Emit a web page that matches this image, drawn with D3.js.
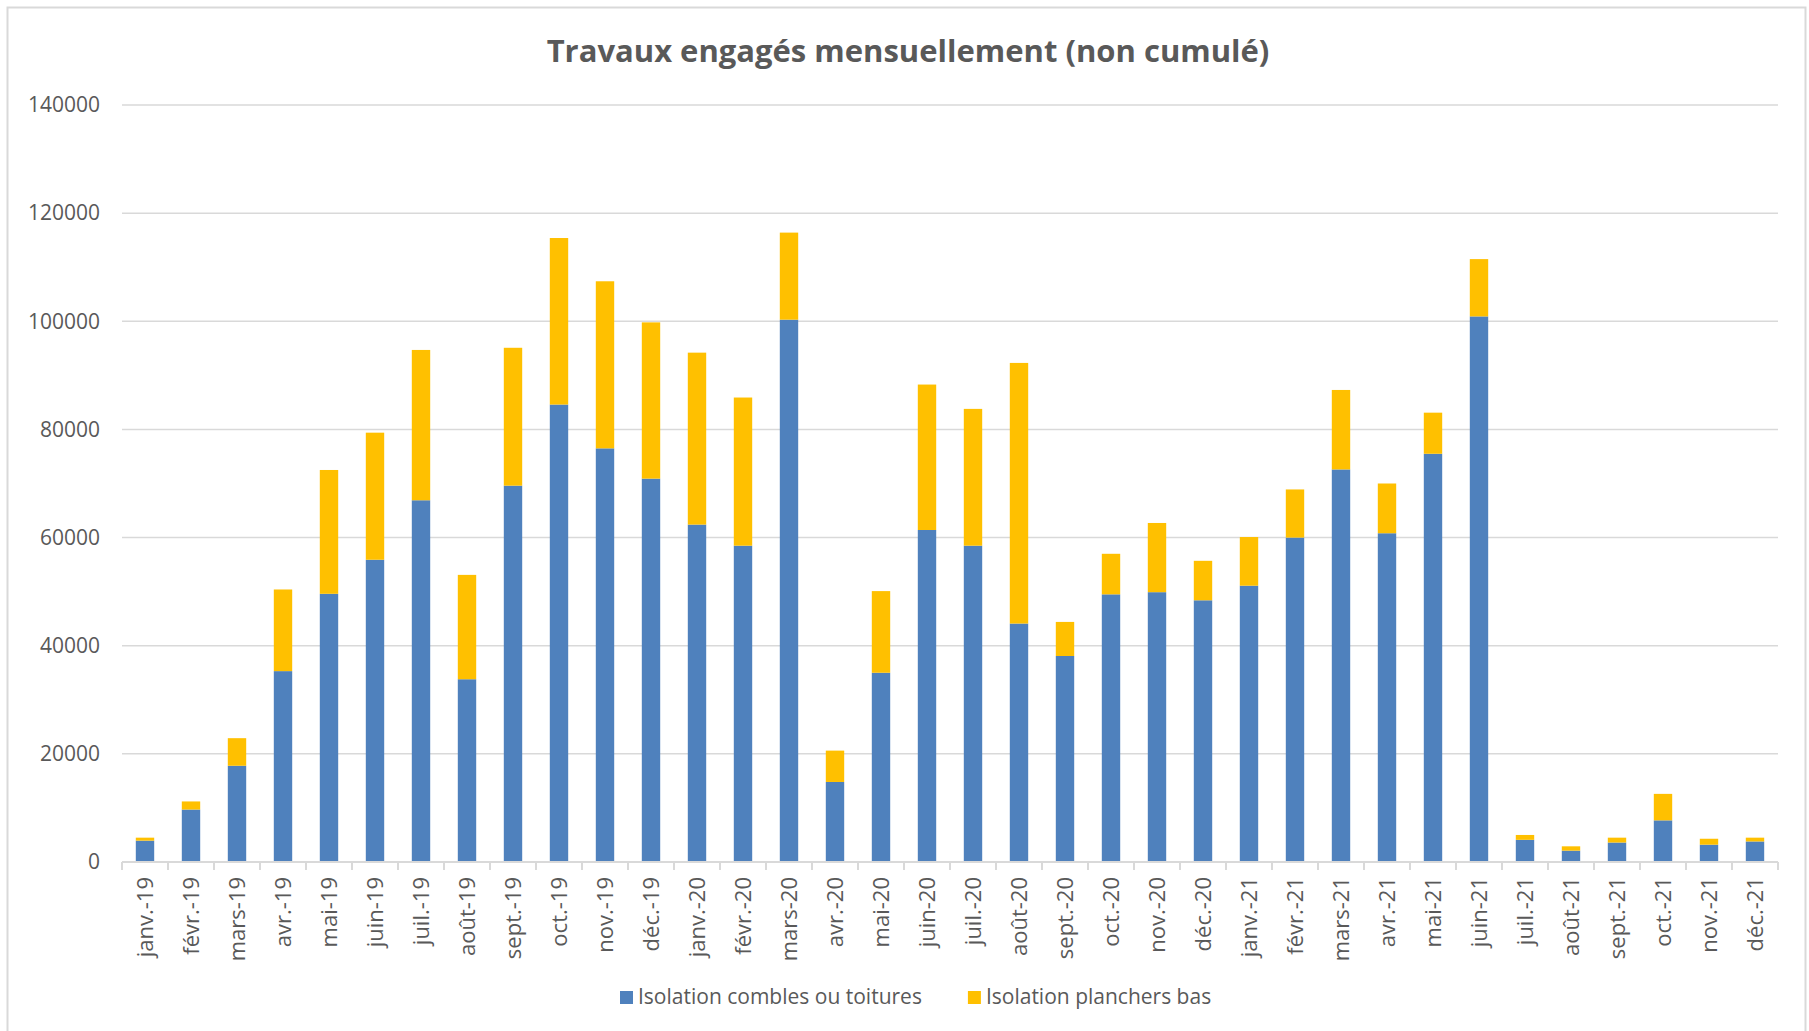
<!DOCTYPE html>
<html>
<head>
<meta charset="utf-8">
<script src="https://cdn.jsdelivr.net/npm/d3@7"></script>
<style>
  body { margin: 0; background: #fff; }
  text { font-family: "Open Sans", sans-serif; fill: #595959; }
</style>
</head>
<body>
<div id="chart"></div>
<script>
// monthly values
var months = ["janv.-19","févr.-19","mars-19","avr.-19","mai-19","juin-19","juil.-19","août-19","sept.-19","oct.-19","nov.-19","déc.-19",
              "janv.-20","févr.-20","mars-20","avr.-20","mai-20","juin-20","juil.-20","août-20","sept.-20","oct.-20","nov.-20","déc.-20",
              "janv.-21","févr.-21","mars-21","avr.-21","mai-21","juin-21","juil.-21","août-21","sept.-21","oct.-21","nov.-21","déc.-21"];
var combles = [3950, 9700, 17800, 35300, 49600, 55900, 66900, 33800, 69600, 84600, 76500, 70900,
               62400, 58500, 100300, 14800, 35000, 61400, 58500, 44100, 38100, 49500, 49900, 48400,
               51100, 60000, 72600, 60800, 75500, 100900, 4100, 2100, 3600, 7700, 3200, 3800];
var planchers = [550, 1500, 5100, 15100, 22900, 23500, 27800, 19300, 25500, 30800, 30900, 28900,
                 31800, 27400, 16100, 5800, 15100, 26900, 25300, 48200, 6300, 7500, 12800, 7300,
                 9000, 8900, 14700, 9200, 7600, 10600, 900, 800, 900, 4900, 1100, 700];
var seriesKeys = ["combles", "planchers"];
var seriesNames = ["Isolation combles ou toitures", "Isolation planchers bas"];
var seriesColors = ["#4F81BD", "#FFC000"];
var yTicks = [0, 20000, 40000, 60000, 80000, 100000, 120000, 140000];
var title = "Travaux engagés mensuellement (non cumulé)";

var W = 1809, H = 1031;
var margin = {top: 105, right: 31, bottom: 169, left: 122},
    width = W - margin.left - margin.right,
    height = H - margin.top - margin.bottom;

var svg = d3.select("#chart").append("svg")
    .attr("width", W)
    .attr("height", H);

// outer chart border
svg.append("rect")
    .attr("x", 7.5).attr("y", 7.5)
    .attr("width", 1798).attr("height", 1040)
    .attr("fill", "#fff")
    .attr("stroke", "#D9D9D9")
    .attr("stroke-width", 2);

svg.append("text")
    .attr("x", 908)
    .attr("y", 51)
    .attr("dy", "0.35em")
    .attr("text-anchor", "middle")
    .style("font-size", "31px")
    .style("font-weight", "bold")
    .text(title);

var g = svg.append("g")
    .attr("transform", "translate(" + margin.left + "," + margin.top + ")");

// scales
var x = d3.scaleBand()
    .domain(months)
    .range([0, width])
    .paddingInner(0.6)
    .paddingOuter(0.3);
var slot = d3.scaleBand()
    .domain(months)
    .range([0, width]);
var y = d3.scaleLinear()
    .domain([0, 140000])
    .range([height, 0]);

// gridlines + y labels
g.append("g")
  .selectAll("line")
  .data(yTicks.filter(function(d) { return d > 0; }))
  .enter().append("line")
    .attr("x1", 0).attr("x2", width)
    .attr("y1", function(d) { return y(d); })
    .attr("y2", function(d) { return y(d); })
    .attr("stroke", "#D9D9D9")
    .attr("stroke-width", 1.5);

g.append("g")
  .selectAll("text")
  .data(yTicks)
  .enter().append("text")
    .attr("x", -22)
    .attr("y", function(d) { return y(d); })
    .attr("dy", "0.35em")
    .attr("text-anchor", "end")
    .style("font-size", "21px")
    .text(function(d) { return d; });

// stacked bars
var table = months.map(function(m, i) {
  return {month: m, combles: combles[i], planchers: planchers[i]};
});
var stacked = d3.stack().keys(seriesKeys)(table);

g.selectAll(".serie")
    .data(stacked)
  .enter().append("g")
    .attr("class", "serie")
    .attr("fill", function(d, i) { return seriesColors[i]; })
  .selectAll("rect")
    .data(function(d) { return d; })
  .enter().append("rect")
    .attr("x", function(d) { return x(d.data.month); })
    .attr("width", x.bandwidth())
    .attr("y", function(d) { return y(d[1]); })
    .attr("height", function(d) { return y(d[0]) - y(d[1]); });

// x axis line and tick marks between categories
var xAxis = g.append("g").attr("transform", "translate(0," + height + ")");
xAxis.append("line")
    .attr("x1", 0).attr("x2", width)
    .attr("stroke", "#D9D9D9")
    .attr("stroke-width", 2);
xAxis.selectAll(".tick")
    .data(months.concat(["end"]))
  .enter().append("line")
    .attr("class", "tick")
    .attr("x1", function(d) { return d === "end" ? width : slot(d); })
    .attr("x2", function(d) { return d === "end" ? width : slot(d); })
    .attr("y1", 0).attr("y2", 8)
    .attr("stroke", "#D9D9D9")
    .attr("stroke-width", 2);

xAxis.selectAll(".lbl")
    .data(months)
  .enter().append("text")
    .attr("class", "lbl")
    .attr("transform", function(d) {
      return "translate(" + (x(d) + x.bandwidth() / 2) + ",15)rotate(-90)";
    })
    .attr("dy", "0.35em")
    .attr("text-anchor", "end")
    .style("font-size", "22px")
    .text(function(d) { return d; });

// legend
var legend = svg.append("g").attr("transform", "translate(0,997)");
var lx = 620;
seriesNames.forEach(function(name, i) {
  legend.append("rect")
      .attr("x", lx).attr("y", -6)
      .attr("width", 13).attr("height", 13)
      .attr("fill", seriesColors[i]);
  var t = legend.append("text")
      .attr("x", lx + 18)
      .attr("dy", "0.35em")
      .style("font-size", "21px")
      .text(name);
  lx += 18 + t.node().getComputedTextLength() + 46;
});
</script>
</body>
</html>
